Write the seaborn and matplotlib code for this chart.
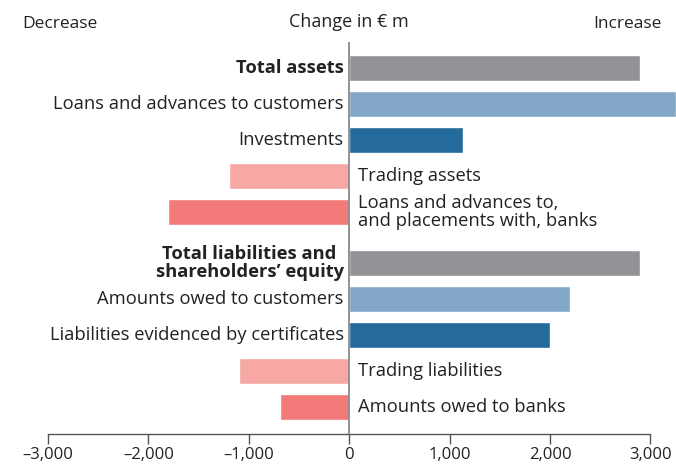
import pandas as pd
import matplotlib.pyplot as plt
import seaborn as sns

# data, change in EUR m
labels = [
    "Total assets",
    "Loans and advances to customers",
    "Investments",
    "Trading assets",
    "Loans and advances to,\nand placements with, banks",
    "Total liabilities and\nshareholders’ equity",
    "Amounts owed to customers",
    "Liabilities evidenced by certificates",
    "Trading liabilities",
    "Amounts owed to banks",
]
values = [2900, 3250, 1130, -1200, -1800, 2900, 2200, 2000, -1100, -690]
is_total = [True, False, False, False, False, True, False, False, False, False]
positions = [0, 1, 2, 3, 4, 5.42, 6.42, 7.42, 8.42, 9.42]
bar_colors = ["#939397", "#82a7c6", "#246a9b", "#f7a7a4", "#f27a78",
              "#939397", "#82a7c6", "#246a9b", "#f7a7a4", "#f27a78"]
tick_vals = [-3000, -2000, -1000, 0, 1000, 2000, 3000]
tick_labels = ["–3,000", "–2,000", "–1,000", "0", "1,000", "2,000", "3,000"]

sns.set_style("white")
plt.rcParams['font.family'] = ['Open Sans', 'DejaVu Sans']
TXT = "#222222"
FS = 13.2

df = pd.DataFrame({"label": labels, "value": values, "pos": positions})

fig = plt.figure(figsize=(6.76, 4.65), dpi=100)
ax = fig.add_axes([48/676, 1-434/465, (675.6-48)/676, (434-42)/465])

sns.barplot(data=df, x="value", y="pos", hue="label", orient="y",
            palette=dict(zip(labels, bar_colors)), native_scale=True,
            dodge=False, width=0.72, legend=False, saturation=1, ax=ax)

ax.set_xlim(-3000, 3250)
ax.set_ylim(10.17, -0.72)
ax.axvline(0, color="#8a8a8a", lw=1.3, zorder=5)

for lab, v, p, tot in zip(labels, values, positions, is_total):
    if v >= 0:
        ax.annotate(lab, (0, p), xytext=(-4, 0), textcoords="offset points",
                    ha="right", va="center", ma="center", fontsize=FS,
                    color=TXT, fontweight="bold" if tot else "normal",
                    linespacing=0.95)
    else:
        ax.annotate(lab, (0, p), xytext=(6, 0), textcoords="offset points",
                    ha="left", va="center", ma="left", fontsize=FS,
                    color=TXT, linespacing=0.95)

for s in ["left", "top", "right"]:
    ax.spines[s].set_visible(False)
ax.spines["bottom"].set_bounds(-3000, 3000)
ax.spines["bottom"].set_color("#555555")
ax.spines["bottom"].set_linewidth(1)
ax.set_xticks(tick_vals)
ax.set_xticklabels(tick_labels, fontsize=12, color=TXT)
ax.tick_params(axis="x", direction="out", length=7, width=1, color="#555555", pad=2,
               bottom=True)
ax.set_yticks([])
ax.set_xlabel("")
ax.set_ylabel("")

fig.text(22/676, 1-24/465, "Decrease", ha="left", va="center", fontsize=12.5, color=TXT)
fig.text(349/676, 1-22/465, "Change in € m", ha="center", va="center", fontsize=13, color=TXT)
fig.text(662/676, 1-24/465, "Increase", ha="right", va="center", fontsize=12.5, color=TXT)

plt.savefig("out.png", dpi=100)
plt.close()
